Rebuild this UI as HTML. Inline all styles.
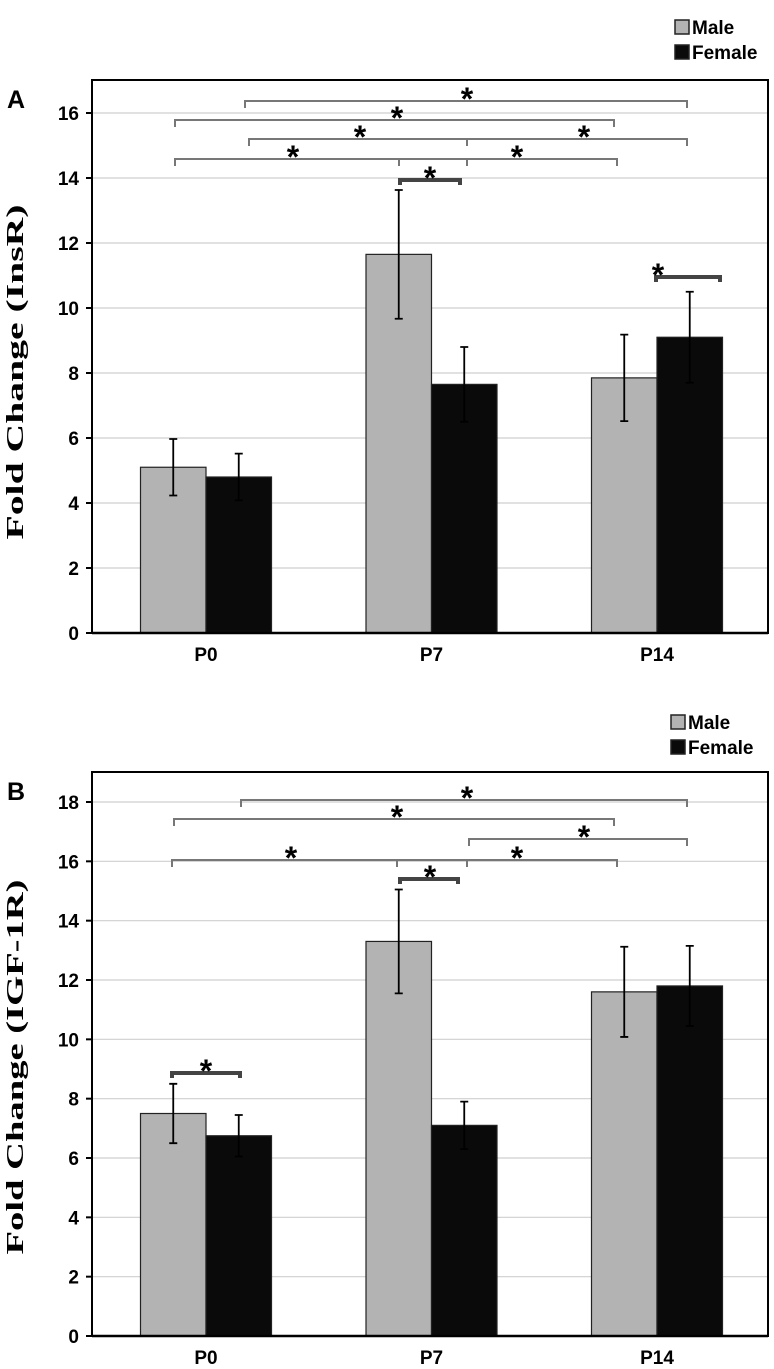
<!DOCTYPE html>
<html><head><meta charset="utf-8"><style>
body{margin:0;background:#fff;}
svg{display:block;font-family:"Liberation Sans",sans-serif;}
</style></head><body>
<svg id="c" width="774" height="1369"></svg>
<script>
const categories=["P0","P7","P14"];
const seriesNames=["Male","Female"];
const maleA=[5.1,11.65,7.85];
const femaleA=[4.8,7.65,9.1];
const maleErrA=[0.87,1.98,1.33];
const femaleErrA=[0.72,1.15,1.4];
const ticksA=[0,2,4,6,8,10,12,14,16];
const maleB=[7.5,13.3,11.6];
const femaleB=[6.75,7.1,11.8];
const maleErrB=[1.0,1.75,1.52];
const femaleErrB=[0.7,0.8,1.35];
const ticksB=[0,2,4,6,8,10,12,14,16,18];

const NS="http://www.w3.org/2000/svg";
const svg=document.getElementById('c');
function mk(t,a,p){const e=document.createElementNS(NS,t);for(const k in a)e.setAttribute(k,a[k]);(p||svg).appendChild(e);return e;}

function panel(cfg){
  const g=mk('g',{});
  
  
  const L=92,R=768,top=cfg.top,y0=cfg.y0,y1=cfg.y1,max=cfg.max;
  const y=v=>y0-(v/max)*(y0-y1);
  const cx=i=>206+i*225.5;
  cfg.ticks.forEach(t=>{
    if(t>0){const gl=mk('line',{x1:L,x2:R,y1:y(t),y2:y(t),stroke:'#cfcfcf','stroke-width':1.2},g);
    }
    const tk=mk('line',{x1:L-6,x2:L,y1:y(t),y2:y(t),stroke:'#000','stroke-width':2},g);
    
    const tl=mk('text',{x:L-13,y:y(t)+7,'text-anchor':'end','font-size':19,'font-weight':'bold'},g);
    tl.textContent=t;
    
  });
  const fr=mk('rect',{x:L,y:top,width:R-L,height:y0-top,fill:'none',stroke:'#000','stroke-width':2},g);
  
  const bw=65.5;
  categories.forEach((c,i)=>{
    [[cfg.male,cfg.maleErr,'#b3b3b3',-1,'male'],[cfg.female,cfg.femaleErr,'#0a0a0a',0,'female']].forEach(([vals,errs,col,off,nm])=>{
      const x=cx(i)+off*bw, v=vals[i];
      const b=mk('rect',{x:x,y:y(v),width:bw,height:y0-y(v),fill:col,stroke:'#222','stroke-width':1.2},g);
      
      
      const ex=x+bw/2;
      const e=mk('path',{d:`M${ex},${y(v-errs[i])}V${y(v+errs[i])}M${ex-4},${y(v-errs[i])}H${ex+4}M${ex-4},${y(v+errs[i])}H${ex+4}`,stroke:'#000','stroke-width':1.8,fill:'none'},g);
      
      
    });
    const cl=mk('text',{x:cx(i),y:y0+28,'text-anchor':'middle','font-size':19,'font-weight':'bold'},g);
    cl.textContent=c;
    
  });
  mk('line',{x1:L,x2:R,y1:y0,y2:y0,stroke:'#000','stroke-width':2.5},g);
  cfg.brackets.forEach(([x1,x2,by,sx,thick])=>{
    const br=mk('path',{d:thick?`M${x1},${by+5}V${by}H${x2}V${by+5}`:`M${x1},${by+7}V${by}H${x2}V${by+7}`,stroke:thick?'#444':'#777','stroke-width':thick?4:2,fill:'none'},g);
    
    if(sx){const s=mk('text',{x:sx,y:by+9,'text-anchor':'middle','font-size':32,'font-weight':'bold'},g);s.textContent='*';
    }
  });
  const lx=cfg.legX,ly=cfg.legY;
  [['#b3b3b3','Male'],['#0a0a0a','Female']].forEach(([c,t],k)=>{
    const sw=mk('rect',{x:lx,y:ly+k*25,width:14,height:14,fill:c,stroke:'#222','stroke-width':1.5},g);
    
    const lt=mk('text',{x:lx+17,y:ly+k*25+14,'font-size':19,'font-weight':'bold'},g);lt.textContent=t;
    
  });
  const pl=mk('text',{x:7,y:top+28,'font-size':25,'font-weight':'bold'},g);pl.textContent=cfg.letter;
  
  const yt=mk('text',{x:0,y:0,transform:`translate(23,${cfg.titleY}) rotate(-90)`,'text-anchor':'middle','font-size':24,'font-weight':'bold','font-family':'"Liberation Serif",serif',textLength:cfg.titleLen,lengthAdjust:'spacingAndGlyphs'},g);
  yt.textContent=cfg.title;
  
}
panel({name:'panel-a-insr',letter:'A',top:80,y0:633,y1:113,max:16,ticks:ticksA,male:maleA,female:femaleA,maleErr:maleErrA,femaleErr:femaleErrA,
  title:'Fold Change (InsR)',titleY:372,titleLen:335,legX:675,legY:20,
  brackets:[[245,687,101,467],[175,614,120,397],[249,467,139,360],[467,687,139,584],[175,399,159,293],[399,467,159,0],[467,617,159,517],[400,460,180,430,1],[656,720,277,658,1]]});
panel({name:'panel-b-igf1r',letter:'B',top:772,y0:1336,y1:802,max:18,ticks:ticksB,male:maleB,female:femaleB,maleErr:maleErrB,femaleErr:femaleErrB,
  title:'Fold Change (IGF-1R)',titleY:1067,titleLen:375,legX:671,legY:715,
  brackets:[[241,687,800,467],[174,614,819,397],[469,687,839,584],[172,397,860,291],[397,467,860,0],[467,617,860,517],[400,458,879,430,1],[172,240,1073,206,1]]});
</script>
</body></html>
